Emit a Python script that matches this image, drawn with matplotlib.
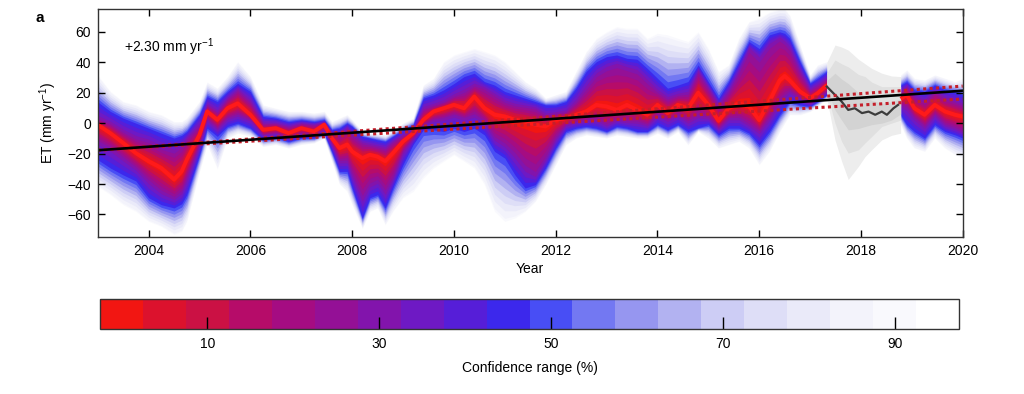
"""ET anomaly fan chart with confidence-range colour bar."""

import matplotlib

matplotlib.use("Agg")

import matplotlib.pyplot as plt
import numpy as np
from matplotlib.colors import BoundaryNorm, ListedColormap
from matplotlib.colorbar import ColorbarBase

plt.rcParams["font.family"] = ["Liberation Sans", "DejaVu Sans"]
plt.rcParams["mathtext.fontset"] = "custom"
plt.rcParams["mathtext.rm"] = "Liberation Sans"
plt.rcParams["mathtext.default"] = "regular"

# --- GRACE period (2003 - mid 2017) ---------------------------------------
years_a = [
  2003.0, 2003.25, 2003.5, 2003.75, 2004.0, 2004.25, 2004.5, 2004.65, 2004.75,
  2005.0, 2005.15, 2005.35, 2005.55, 2005.75, 2006.0, 2006.25, 2006.5, 2006.75,
  2007.0, 2007.25, 2007.45, 2007.6, 2007.75, 2007.9, 2008.0, 2008.2, 2008.35,
  2008.5, 2008.65, 2008.8, 2009.0, 2009.2, 2009.4, 2009.6, 2009.8, 2010.0,
  2010.2, 2010.4, 2010.6, 2010.8, 2011.0, 2011.2, 2011.4, 2011.6, 2011.8,
  2012.0, 2012.2, 2012.4, 2012.6, 2012.8, 2013.0, 2013.2, 2013.4, 2013.6,
  2013.8, 2014.0, 2014.2, 2014.4, 2014.6, 2014.8, 2015.0, 2015.2, 2015.4,
  2015.6, 2015.8, 2016.0, 2016.2, 2016.4, 2016.5, 2016.6, 2016.8, 2017.0,
  2017.15, 2017.33,
]
median_a = [
  -1, -6.6, -13, -19.7, -25, -29.5, -37, -31.7, -24,
  -7.7, 7.7, 2.2, 9.8, 13, 5.5, -4.4, -3.3, -6.6,
  -3.3, -5.5, -1, -9.8, -16.4, -14, -18.6, -23, -20.8,
  -22, -25, -19.7, -12, -6.6, 2.2, 7.7, 9.8, 12,
  9.8, 17.5, 9.8, 5.5, 4.4, 2.2, 1, -1, -2.2,
  2.2, 3.3, 5.5, 7.7, 12, 11, 8.7, 12, 8.7,
  5.5, 12, 6.6, 12, 9.8, 20, 12, 1.5, 9.8,
  13, 11, 2, 14.2, 28, 31, 28, 20.8, 16.4,
  19.7, 25,
]
# edge of the red/purple core
core_hi_a = [
  3.3, 0, -5.5, -9.8, -12, -16.4, -18.6, -15, -9.8,
  -1, 12, 7.7, 16.4, 21.9, 14.2, 0, 0, -2.2,
  0, -1, 1, -6, -7.7, -3.3, -7.7, -13, -14.2,
  -15.3, -16.4, -12, -7.7, -4.4, 9.8, 12, 14.2, 18,
  20.8, 25, 23, 18.6, 14.2, 12, 11, 9.8, 5.5,
  6.6, 7.7, 14.2, 23, 31.7, 36, 38.3, 36, 33.9,
  27.3, 20.8, 16.4, 18.6, 19.7, 33.9, 23, 12, 20.8,
  33.9, 49, 42.6, 51.4, 55.7, 53, 49, 33.9, 21.9,
  25, 29.5,
]
core_lo_a = [
  -12, -16.4, -23, -29.5, -38, -45, -49, -45, -36,
  -14, 2.2, -3.3, 3.3, 5.5, 2.2, -7.7, -6.5, -9.8,
  -6.6, -7.7, -4.4, -14, -25, -25, -34, -49, -40.4,
  -38, -45, -36, -18.6, -9.8, -1, 2.2, 3.3, 5.5,
  3.3, 5.5, 1, -9.8, -14.2, -20.8, -29.5, -34, -23,
  -9.8, -1, 1, 2.2, 2.2, -1, 2.2, 1, 1,
  -1, 5.5, 2.2, 5.5, 1, 5, 3.3, -3.3, 3.3,
  3.3, -1, -5.5, 3.3, 14.2, 18, 20.8, 16.4, 13,
  16, 20.8,
]
# edge of the saturated blue
dark_hi_a = [
  14, 7.7, 3.3, 0, -3.3, -6.6, -9.8, -8, -5.5,
  5.5, 17.5, 14.2, 20.8, 26.2, 20.8, 4.4, 3.3, 1,
  2.2, 1, 2.2, -4.4, -3.3, 0, -2.2, -8.7, -9.8,
  -11, -12, -8.7, -4.4, -1, 16.4, 18.6, 21.9, 26,
  30.6, 32.8, 27.3, 25, 20.8, 18.6, 16.4, 14.2, 12,
  12, 14.2, 23, 33.9, 40.4, 43.7, 44.8, 42.6, 42,
  36, 29.5, 23, 25, 27.3, 38.3, 27.3, 16.4, 27.3,
  40.4, 53.6, 49, 58, 60, 59, 55.7, 40.4, 26.2,
  29.5, 33.9,
]
dark_lo_a = [
  -24, -29.5, -34, -38, -49, -53.6, -55.7, -53, -47,
  -20.8, -3.3, -8.7, -2.2, 0, -3.3, -11, -9.5, -12,
  -9.8, -9.8, -6.6, -18.6, -31.7, -31.7, -42.6, -62.3, -49,
  -47, -55.7, -42.6, -27.3, -14, -4.4, -4.4, -5.5, -3.3,
  -5.5, -3.3, -7.7, -18.6, -23, -34, -42.6, -40.4, -29.5,
  -16.4, -5.5, -3.3, -2.2, -3.3, -5.5, -2.2, -3.3, -5.5,
  -5.5, -1, -4.4, -1, -5.5, -3, -1, -7.7, -3.3,
  -3.3, -6.6, -14.2, -5.5, 5.5, 10, 14.2, 12, 11,
  14.2, 18.6,
]
# faint outer edge
outer_hi_a = [
  31.6, 20.8, 14.2, 12, 7.7, 5.5, 1, 1, 3.3,
  14.2, 27, 23, 30.6, 40.4, 30.6, 12, 9.8, 7.7,
  7.7, 6.6, 7.7, 1, 3.3, 5.5, 2.2, -5.5, -6.6,
  -6.6, -7.7, -4.4, 0, 3.3, 25, 29.5, 40.4, 44.8,
  47, 49, 47, 44.8, 40.4, 33.9, 27.3, 23, 16.4,
  18.6, 20.8, 33.9, 47, 55.7, 60, 63.4, 62.3, 62.3,
  55.7, 59, 58, 55.7, 53.6, 60, 49, 33.9, 38.3,
  55.7, 66.7, 69, 73, 75, 75, 71, 51.4, 31.7,
  38.3, 40.4,
]
outer_lo_a = [
  -41.5, -47, -53.6, -58, -64.5, -67.8, -73, -71, -64.5,
  -31.7, -14, -30, -9.8, -6.6, -8.7, -15.3, -14, -16.4,
  -14, -13, -9.8, -25, -40, -44.8, -53.6, -69, -58,
  -55.7, -66.7, -58, -49, -44.8, -36, -29.5, -25, -20.8,
  -25, -29.5, -40.4, -58, -64.5, -62.3, -58, -51.4, -40.4,
  -27.3, -14.2, -9.8, -7.7, -8.7, -9.8, -7.7, -8.7, -9.8,
  -9.8, -6.6, -9.8, -5.5, -14.2, -5.5, -9.8, -16.4, -14.2,
  -12, -16.4, -27.3, -18.6, -5.5, 0, 5.5, 5.5, 7.7,
  11, 16.4,
]

# --- GRACE-FO period (mid 2018 - 2020) -------------------------------------
years_b = [2018.78, 2018.9, 2019.05, 2019.25, 2019.45, 2019.65, 2019.85, 2020.0]
median_b = [16, 18.6, 9.8, 5.5, 12, 7.7, 5.5, 4.4]
core_hi_b = [20.8, 24, 17.5, 14.2, 20.8, 16.4, 14.2, 12]
core_lo_b = [12, 10, 3.3, -2.2, 5.5, -1, -3.3, -5.5]
dark_hi_b = [25, 27.3, 21.9, 20.8, 25, 21.9, 20.8, 18.6]
dark_lo_b = [5.5, -1, -5.5, -9.8, -1, -5.5, -7.7, -9.8]
outer_hi_b = [31.7, 35, 29.5, 28.4, 31.7, 29.5, 27.3, 29.5]
outer_lo_b = [-1, -9.8, -16.4, -18.6, -9.8, -16.4, -20.8, -23]

# --- gap between missions (grey reconstruction) ----------------------------
gap_years = [2017.33, 2017.49, 2017.62, 2017.75, 2017.95, 2018.08, 2018.21,
             2018.41, 2018.6, 2018.78]
gap_outer_hi = [40, 51.3, 50, 48, 42, 39, 36, 32.8, 31, 30.6]
gap_outer_lo = [16, -11, -25, -37, -28.4, -22, -17.5, -11, -8, -6.6]
gap_mid_hi = [33, 41.5, 39, 37, 32, 30.6, 27, 24, 24, 24]
gap_mid_lo = [20, 0, -12, -19.7, -17.5, -13, -8.8, -2.2, 0, 2]
gap_inner_hi = [28, 32.8, 29, 26, 20, 17.5, 15, 13, 14, 16]
gap_inner_lo = [22, 8.7, 2, -4.4, -3.5, -2.2, -1, 0, 2, 6]
gap_line_years = [2017.33, 2017.49, 2017.62, 2017.75, 2017.88, 2018.02,
                  2018.15, 2018.28, 2018.41, 2018.51, 2018.64, 2018.73]
gap_line = [24, 18.6, 14.2, 8.7, 9.8, 6.6, 7.6, 5.5, 7.6, 5.5, 9.8, 12]

# --- linear trend ------------------------------------------------------------
trend_years = [2003.0, 2020.0]
trend_start = -17.8
trend_slope = 2.30
trend_slope_bounds = [1.98, 2.48]

# --- colour bar --------------------------------------------------------------
confidence_levels = list(range(0, 100, 5))
band_colors = [
  (242, 22, 18), (220, 18, 45), (203, 17, 68), (182, 12, 105), (165, 12, 130),
  (148, 16, 150), (130, 20, 172), (110, 25, 196), (86, 30, 216), (60, 40, 236),
  (72, 78, 245), (115, 120, 242), (150, 150, 240), (178, 178, 241),
  (205, 205, 245), (222, 222, 247), (234, 234, 249), (243, 243, 251),
  (249, 249, 253), (255, 255, 255),
]
colorbar_ticks = [10, 30, 50, 70, 90]

# confidence level that each read-off envelope stands for
ANCHOR_LEVELS = [0, 32, 50, 92]


def _rgb(color):
  return tuple(c / 255 for c in color)


def _draw_fan(ax, years, med, c_lo, c_hi, d_lo, d_hi, o_lo, o_hi):
  uppers = np.array([med, c_hi, d_hi, o_hi], dtype=float)
  lowers = np.array([med, c_lo, d_lo, o_lo], dtype=float)
  for k in range(len(confidence_levels) - 2, -1, -1):
    level = confidence_levels[k] + 5
    hi = [np.interp(level, ANCHOR_LEVELS, column) for column in uppers.T]
    lo = [np.interp(level, ANCHOR_LEVELS, column) for column in lowers.T]
    ax.fill_between(years, lo, hi, color=_rgb(band_colors[k]), lw=0)
  ax.plot(years, med, color=(1.0, 0.1, 0.1), lw=2.8, solid_capstyle="butt")


fig = plt.figure(figsize=(10.24, 3.94), dpi=100)
ax = fig.add_axes([97.7 / 1024, 1 - 237.3 / 394, 865 / 1024, 228.3 / 394])

_draw_fan(ax, years_a, median_a, core_lo_a, core_hi_a, dark_lo_a, dark_hi_a,
          outer_lo_a, outer_hi_a)
_draw_fan(ax, years_b, median_b, core_lo_b, core_hi_b, dark_lo_b, dark_hi_b,
          outer_lo_b, outer_hi_b)

ax.fill_between(gap_years, gap_outer_lo, gap_outer_hi, color="#ededed", lw=0)
ax.fill_between(gap_years, gap_mid_lo, gap_mid_hi, color="#e0e0e0", lw=0)
ax.fill_between(gap_years, gap_inner_lo, gap_inner_hi, color="#d3d3d3", lw=0)
ax.plot(gap_line_years, gap_line, color="#3c3c3c", lw=1.6)

trend_x = np.array(trend_years)
for slope in trend_slope_bounds:
  ax.plot(trend_x, trend_start + slope * (trend_x - trend_x[0]),
          color="#c41e2a", lw=2.2, linestyle=(0, (1.0, 1.1)))
ax.plot(trend_x, trend_start + trend_slope * (trend_x - trend_x[0]),
        color="black", lw=1.9)

ax.set_xlim(2003, 2020)
ax.set_ylim(-75, 75)
ax.set_xticks(range(2004, 2021, 2))
ax.set_yticks(range(-60, 61, 20))
ax.tick_params(direction="in", top=True, right=True, length=5, width=1,
               labelsize=10, pad=5)
ax.set_yticklabels([f"{v}".replace("-", "\u2212") for v in range(-60, 61, 20)])
for spine in ax.spines.values():
  spine.set_linewidth(1.0)
  spine.set_color("#333333")
ax.set_xlabel("Year", fontsize=10, labelpad=3)
ax.set_ylabel("ET (mm yr$^{\u22121}$)", fontsize=10, labelpad=6)
ax.text(0.03, 0.834, "+2.30 mm yr$^{\u22121}$", transform=ax.transAxes,
        fontsize=10, va="center")
fig.text(40 / 1024, 1 - 18 / 394, "a", fontsize=11, fontweight="bold",
         va="center", ha="center")

cax = fig.add_axes([100 / 1024, 1 - 328.5 / 394, 859 / 1024, 29.5 / 394])
edges = [level - 2.5 for level in confidence_levels] + [confidence_levels[-1] + 2.5]
cmap = ListedColormap([_rgb(c) for c in band_colors])
norm = BoundaryNorm(edges, cmap.N)
cbar = ColorbarBase(cax, cmap=cmap, norm=norm, orientation="horizontal",
                    ticks=colorbar_ticks, spacing="proportional")
cbar.minorticks_off()
cbar.outline.set_linewidth(1.0)
cbar.outline.set_edgecolor("#333333")
cax.tick_params(which="both", direction="in", length=9, width=1,
                labelsize=10, pad=6)
cax.tick_params(which="minor", length=0)
for label in cax.get_xticklabels():
  label.set_family(["Liberation Sans Narrow", "Liberation Sans"])
cbar.set_label("Confidence range (%)", fontsize=10, labelpad=7,
               family=["Liberation Sans Narrow", "Liberation Sans"])

fig.savefig("out.png", dpi=100)
